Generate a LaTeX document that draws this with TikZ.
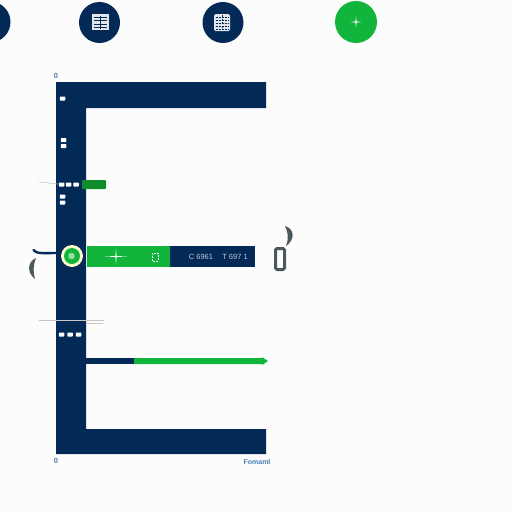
\documentclass[tikz,border=0pt]{standalone}
\usepackage{fontspec}
\setmainfont{Liberation Sans}
\definecolor{navy}{HTML}{032A56}
\definecolor{grn}{HTML}{12B53C}
\definecolor{lbl}{HTML}{4A7DB8}
\definecolor{slate}{HTML}{4A5A5C}
\tikzset{
  badge/.style={circle,fill=navy,minimum size=41pt,inner sep=0pt},
  dotw/.style={fill=white,rounded corners=0.6pt,minimum width=5.5pt,minimum height=4pt,inner sep=0pt},
  axis label/.style={text=lbl,font=\bfseries\fontsize{7.5}{8}\selectfont,inner sep=0pt},
  bar text/.style={text=white!75!navy,font=\fontsize{7.5}{8}\selectfont,inner sep=0pt},
  hair/.style={line width=0.6pt,draw=black!22},
  tile/.style={fill=white!88!navy,draw=none},
  tilegrid/.style={draw=navy,line width=0.7pt},
}
\begin{document}
\begin{tikzpicture}[x=1pt,y=-1pt]
\useasboundingbox (0,0) rectangle (512,512);
\fill[white!99!black] (0,0) rectangle (512,512);
% top badges
\begin{scope}
\clip (0,0) rectangle (512,512);
\node[badge] (b0) at (-10,22) {};
\end{scope}
\node[badge] (b1) at (99.5,22.5) {};
\node[badge] (b2) at (223,22.5) {};
\node[badge,fill=grn,minimum size=42pt] (b3) at (356,22) {};
% icons
\fill[tile] (92,14) rectangle (109,30);
\foreach \y in {17,20.5,24,27} \draw[tilegrid] (94,\y) -- (107,\y);
\draw[tilegrid] (100.5,15.5) -- (100.5,28.5);
\fill[tile,rounded corners=1.5pt] (214,14) rectangle (230,31);
\foreach \y in {17,20,23,26,29} \draw[tilegrid,dash pattern=on 2pt off 1pt] (215.5,\y) -- (229,\y);
\draw[tilegrid,dash pattern=on 2pt off 1.5pt] (222,15) -- (222,30);
\fill[white] (356,16.5) -- (356.6,21.4) -- (361.5,22) -- (356.6,22.6) -- (356,27.5) -- (355.4,22.6) -- (350.5,22) -- (355.4,21.4) -- cycle;
% E shape
\fill[navy] (56,82) -- (266,82) -- (266,108) -- (86,108) -- (86,429) -- (266,429) -- (266,454) -- (56,454) -- cycle;
% tab
\fill[grn!78!black,rounded corners=1pt] (82,180) rectangle (106,189);
% hairlines
\draw[hair] (39,182) -- (58,184);
\draw[hair] (39,320) -- (104,320);
\draw[hair] (87,323.5) -- (103,323.5);
% white dots
\foreach \n/\x/\y in {d1/62.5/98.5,d2/63.5/140,d3/63.5/146,d4/61.5/184.5,d5/68.5/184.5,d6/76/184.5,d7/62.5/196.5,d8/62.5/202.5,d9/61.5/334.5,d10/70/334.5,d11/78.5/334.5}
  \node[dotw] (\n) at (\x,\y) {};
% wide bar
\fill[grn] (87,246) rectangle (170,267);
\fill[navy] (170,246) rectangle (255,267);
\fill[white] (116,249) -- (116.6,256) -- (127,256.5) -- (116.6,257) -- (116,264) -- (115.4,257) -- (105,256.5) -- (115.4,256) -- cycle;
\draw[white,line width=1pt,dash pattern=on 2pt off 1pt] (152,253) rectangle (158,261);
\node[bar text] (t1) at (201,257) {C 6961};
\node[bar text] (t2) at (235,257) {T 697 1};
% marker
\node[circle,fill=white!80!yellow,minimum size=22pt,inner sep=0pt] (m0) at (72,256) {};
\node[circle,fill=grn,minimum size=16pt,inner sep=0pt] (m1) at (72,256) {};
\node[circle,fill=white!55!grn,minimum size=6.5pt,inner sep=0pt] (m2) at (71.5,256) {};
% curved stroke left
\coordinate (cs) at (33.5,250);
\draw[navy,line width=2.4pt,line cap=round] (cs) .. controls (36,254) and (44,253) .. (56,253);
\fill[slate] (36,258) .. controls (27,262) and (27,273) .. (35,279) .. controls (33,272) and (33,265) .. (36,258) -- cycle;
% right glyphs
\fill[slate] (285,226) .. controls (295,229) and (295,240) .. (286,246) .. controls (289,238) and (288,232) .. (285,226) -- cycle;
\draw[slate,line width=3pt,rounded corners=1.5pt] (275.5,248.5) rectangle (284.5,269.5);
% arrow
\fill[navy] (86,358) rectangle (134,364);
\fill[grn] (134,358) -- (262,358) -- (262,357) -- (268,361) -- (262,365) -- (262,364) -- (134,364) -- cycle;
% labels
\node[axis label] (l1) at (56,76) {0};
\node[axis label] (l2) at (56,461) {0};
\node[axis label,font=\bfseries\fontsize{7}{8}\selectfont] (l3) at (257,462) {Fomaml};
\end{tikzpicture}
\end{document}
